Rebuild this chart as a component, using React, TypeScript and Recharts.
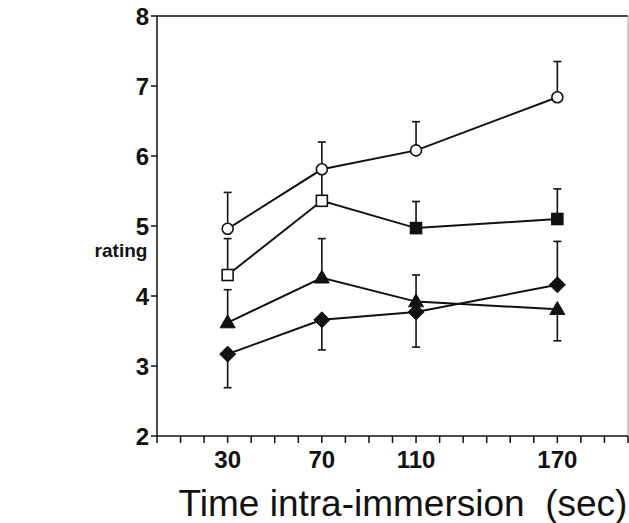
import React from "react";
import { LineChart, Line, XAxis, YAxis, ErrorBar, ReferenceLine } from "recharts";

// time points (sec)
const times = [30, 70, 110, 170];

// series means
const circleVals = [4.96, 5.81, 6.08, 6.84];
const squareVals = [4.3, 5.36, 4.97, 5.1];
const triangleVals = [3.62, 4.26, 3.92, 3.81];
const diamondVals = [3.17, 3.66, 3.77, 4.16];

// one-sided error bars as [below, above]
const circleErr = [[0, 0.52], [0, 0.39], [0, 0.41], [0, 0.51]];
const squareErr = [[0, 0.52], [0, 0.44], [0, 0.38], [0, 0.43]];
const triangleErr = [[0, 0.47], [0, 0.56], [0, 0.38], [0.45, 0]];
const diamondErr = [[0.48, 0], [0.43, 0], [0.5, 0], [0, 0.62]];

// square marker is open for the first two points
const squareOpen = [true, true, false, false];

const xTicks = [0, 10, 20, 30, 40, 50, 60, 70, 80, 90, 100, 110, 120, 130, 140, 150, 160, 170, 180, 190, 200];
const xLabels = [30, 70, 110, 170];
const yTicks = [2, 3, 4, 5, 6, 7, 8];

const data = times.map((t, i) => ({
  t,
  circle: circleVals[i],
  square: squareVals[i],
  triangle: triangleVals[i],
  diamond: diamondVals[i],
  circleErr: circleErr[i],
  squareErr: squareErr[i],
  triangleErr: triangleErr[i],
  diamondErr: diamondErr[i],
}));

const INK = "#111";
const FONT = "'Liberation Sans', Arial, sans-serif";

function CircleDot(props: any) {
  const { cx, cy } = props;
  return <circle cx={cx} cy={cy} r={5.5} fill="#fff" stroke={INK} strokeWidth={1.6} />;
}

function SquareDot(props: any) {
  const { cx, cy, index } = props;
  const s = 11;
  return (
    <rect
      x={cx - s / 2}
      y={cy - s / 2}
      width={s}
      height={s}
      fill={squareOpen[index] ? "#fff" : INK}
      stroke={INK}
      strokeWidth={1.6}
    />
  );
}

function TriangleDot(props: any) {
  const { cx, cy } = props;
  const h = 13;
  const w = 15;
  return (
    <polygon
      points={`${cx},${cy - h * 0.6} ${cx + w / 2},${cy + h * 0.4} ${cx - w / 2},${cy + h * 0.4}`}
      fill={INK}
      stroke={INK}
      strokeWidth={1}
    />
  );
}

function DiamondDot(props: any) {
  const { cx, cy } = props;
  const r = 8;
  return (
    <polygon
      points={`${cx},${cy - r} ${cx + r},${cy} ${cx},${cy + r} ${cx - r},${cy}`}
      fill={INK}
      stroke={INK}
      strokeWidth={1}
    />
  );
}

function XTick(props: any) {
  const { x, y, payload } = props;
  if (!xLabels.includes(payload.value)) return null;
  return (
    <text x={x} y={y + 23} textAnchor="middle" fontFamily={FONT} fontWeight="bold" fontSize={24} fill={INK}>
      {payload.value}
    </text>
  );
}

export default function App() {
  return (
    <div style={{ position: "absolute", left: 0, top: 0, background: "#fff" }}>
      <LineChart width={629} height={523} data={data} margin={{ top: 16, right: 1, left: 0, bottom: 0 }}>
        <XAxis
          dataKey="t"
          type="number"
          domain={[0, 200]}
          ticks={xTicks}
          interval={0}
          tickSize={7}
          tick={<XTick />}
          height={87}
          stroke={INK}
          strokeWidth={1.5}
          label={{
            content: () => (
              <text x={403} y={516} textAnchor="middle" fontFamily={FONT} fontSize={37} fill={INK} style={{ whiteSpace: "pre" }}>
                {"Time intra-immersion  (sec)"}
              </text>
            ),
          }}
        />
        <YAxis
          domain={[2, 8]}
          ticks={yTicks}
          interval={0}
          width={157}
          tickSize={6}
          stroke={INK}
          strokeWidth={1.5}
          tick={{ fontFamily: FONT, fontWeight: "bold", fontSize: 24, fill: INK }}
          tickMargin={2}
          label={{
            content: () => (
              <text x={121} y={257} textAnchor="middle" fontFamily={FONT} fontWeight="bold" fontSize={19} fill={INK}>
                rating
              </text>
            ),
          }}
        />
        <ReferenceLine y={8} stroke={INK} strokeWidth={1.5} />
        <ReferenceLine x={200} stroke="#999" strokeWidth={1} />
        <Line dataKey="circle" stroke={INK} strokeWidth={2} isAnimationActive={false} dot={(p: any) => <CircleDot key={p.index} {...p} />}>
          <ErrorBar dataKey="circleErr" direction="y" width={4} stroke={INK} strokeWidth={1.6} />
        </Line>
        <Line dataKey="square" stroke={INK} strokeWidth={2} isAnimationActive={false} dot={(p: any) => <SquareDot key={p.index} {...p} />}>
          <ErrorBar dataKey="squareErr" direction="y" width={4} stroke={INK} strokeWidth={1.6} />
        </Line>
        <Line dataKey="triangle" stroke={INK} strokeWidth={2} isAnimationActive={false} dot={(p: any) => <TriangleDot key={p.index} {...p} />}>
          <ErrorBar dataKey="triangleErr" direction="y" width={4} stroke={INK} strokeWidth={1.6} />
        </Line>
        <Line dataKey="diamond" stroke={INK} strokeWidth={2} isAnimationActive={false} dot={(p: any) => <DiamondDot key={p.index} {...p} />}>
          <ErrorBar dataKey="diamondErr" direction="y" width={4} stroke={INK} strokeWidth={1.6} />
        </Line>
      </LineChart>
    </div>
  );
}
